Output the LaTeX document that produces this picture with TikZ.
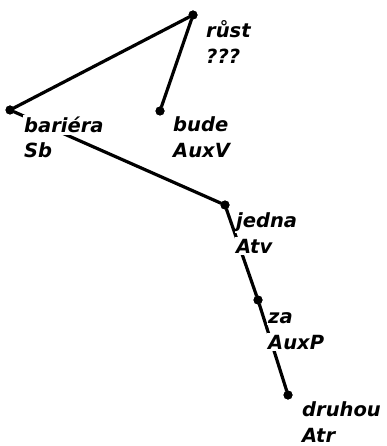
\documentclass[tikz,border=0pt]{standalone}
\usepackage{fontspec}
\newfontfamily\tagfont{DejaVu Sans}
\usetikzlibrary{positioning}

\begin{document}
\begin{tikzpicture}[
    x=1pt, y=-1pt,
    dot/.style  ={circle, fill=black, inner sep=0pt, minimum size=9pt},
    edge/.style ={line width=3.2pt, line cap=round},
    word/.style ={anchor=base west, fill=white, inner xsep=1pt, inner ysep=2pt,
                  font=\tagfont\bfseries\itshape\fontsize{19.5}{25}\selectfont},
]
\useasboundingbox[fill=white] (0,0) rectangle (387,446);

% tree nodes
\node[dot] (rust)   at (193,15)  {};
\node[dot] (bariera) at (10,110) {};
\node[dot] (bude)   at (160,111) {};
\node[dot] (jedna)  at (225,205) {};
\node[dot] (za)     at (258,300) {};
\node[dot] (druhou) at (288,395) {};

% dependency edges
\draw[edge] (rust)    -- (bariera);
\draw[edge] (rust)    -- (bude);
\draw[edge] (bariera) -- (jedna);
\draw[edge] (jedna)   -- (za);
\draw[edge] (za)      -- (druhou);

% labels: word form and analytic function
\node[word] (rust-w)    at (205,38)  {růst};
\node[word] (rust-f)    at (205,64)  {???};
\node[word] (bariera-w) at (23,133)  {bariéra};
\node[word] (bariera-f) at (23,158)  {Sb};
\node[word] (bude-w)    at (172,132) {bude};
\node[word] (bude-f)    at (172,158) {AuxV};
\node[word] (jedna-w)   at (235,227) {jedna};
\node[word] (jedna-f)   at (235,253) {Atv};
\node[word] (za-w)      at (267,323) {za};
\node[word] (za-f)      at (267,349) {AuxP};
\node[word] (druhou-w)  at (301,416) {druhou};
\node[word] (druhou-f)  at (301,442) {Atr};

% dots stay on top
\foreach \n in {rust,bariera,bude,jedna,za,druhou}
  \fill (\n) circle (4.5pt);
\end{tikzpicture}
\end{document}
